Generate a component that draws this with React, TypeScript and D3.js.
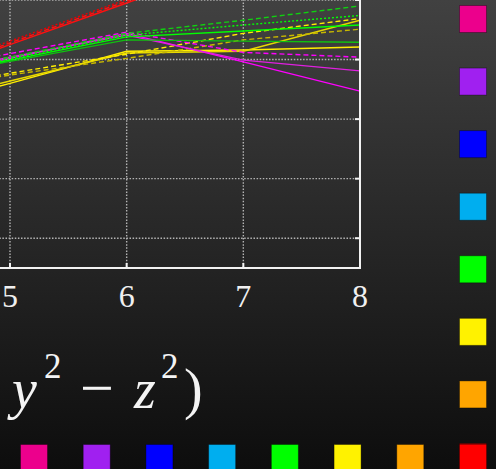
import React from "react";
import * as d3 from "d3";

// x values of every series (the left point sits outside the visible crop)
const xs = [4, 5, 6, 7, 8];
const xTicks = [5, 6, 7, 8];
const yTicks = [1, 2, 3, 4, 5];

const red1 = [3.57, 4.25, 4.95, 5.65, 6.35];
const red2 = [3.59, 4.28, 4.98, 5.68, 6.38];
const red3 = [3.62, 4.31, 5.01, 5.71, 6.41];

const mag1 = [3.62, 4.02, 4.44, 3.96, 3.47];
const mag2 = [3.66, 4.04, 4.41, 3.99, 3.81];
const mag3 = [3.72, 4.1, 4.46, 4.12, 4.04];

const green1 = [3.58, 3.97, 4.33, 4.31, 4.29];
const green2 = [3.62, 3.99, 4.38, 4.48, 4.58];
const green3 = [3.66, 4.04, 4.44, 4.66, 4.9];
const green4 = [3.63, 4.01, 4.41, 4.58, 4.74];

const yellow1 = [3.08, 3.6, 4.14, 4.16, 4.21];
const yellow2 = [3.14, 3.64, 4.11, 4.14, 4.66];
const yellow3 = [3.44, 3.74, 4.02, 4.33, 4.51];
const yellow4 = [3.43, 3.77, 4.09, 4.44, 4.69];

const series = [
  { values: red1, color: "#ff1010", dash: null },
  { values: red2, color: "#ff1010", dash: "5,3" },
  { values: red3, color: "#e80000", dash: "2,2" },
  { values: yellow1, color: "#ffee00", dash: null },
  { values: yellow2, color: "#e8d800", dash: null },
  { values: yellow3, color: "#c8b800", dash: "5,3" },
  { values: yellow4, color: "#ffee00", dash: "5,3" },
  { values: mag1, color: "#ff00ff", dash: null },
  { values: mag2, color: "#e020e0", dash: null },
  { values: mag3, color: "#ff00ff", dash: "5,3" },
  { values: green1, color: "#10c010", dash: null },
  { values: green2, color: "#00ff00", dash: null },
  { values: green3, color: "#10d010", dash: "5,3" },
  { values: green4, color: "#00ff00", dash: "2,2" },
];

const legendColors = [
  "#ec008c",
  "#a020f0",
  "#0000ff",
  "#00aeef",
  "#00ff00",
  "#fff200",
  "#ffa500",
  "#ff0000",
];

const W = 496;
const H = 469;
const serif = "Liberation Serif, DejaVu Serif, serif";

export default function App() {
  const x = d3.scaleLinear().domain([5, 8]).range([10, 360]);
  const y = d3.scaleLinear().domain([0.5, 5]).range([268, 0]);
  const line = d3
    .line<number>()
    .x((_, i) => x(xs[i]))
    .y((d) => y(d));

  const legendY = d3.scaleLinear().domain([0, 7]).range([5, 443]);
  const legendX = d3.scaleLinear().domain([0, 7]).range([20, 459]);
  const sq = 27;

  return (
    <div style={{ position: "fixed", left: 0, top: 0 }}>
      <svg width={W} height={H} style={{ display: "block" }}>
        <defs>
          <linearGradient id="bg" x1="0" y1="0" x2="0" y2="1">
            <stop offset="0%" stopColor="#414141" />
            <stop offset="100%" stopColor="#0d0d0d" />
          </linearGradient>
          <clipPath id="plot">
            <rect x={-100} y={-100} width={460} height={368} />
          </clipPath>
        </defs>
        <rect width={W} height={H} fill="url(#bg)" />

        {/* grid */}
        <g stroke="#b4b4b4" strokeWidth={1.4} strokeDasharray="1.5,1.6">
          {xTicks.slice(0, -1).map((t) => (
            <line key={"gx" + t} x1={x(t)} x2={x(t)} y1={-10} y2={268} />
          ))}
          {yTicks.map((t) => (
            <line key={"gy" + t} x1={-10} x2={360} y1={y(t)} y2={y(t)} />
          ))}
        </g>

        {/* series */}
        <g clipPath="url(#plot)" fill="none" strokeWidth={1.4}>
          {series.map((s, i) => (
            <path
              key={i}
              d={line(s.values) || ""}
              stroke={s.color}
              strokeDasharray={s.dash || undefined}
            />
          ))}
        </g>

        {/* frame and ticks */}
        <g stroke="#f2f2f2" strokeWidth={2}>
          <line x1={-10} x2={361} y1={268} y2={268} />
          <line x1={360} x2={360} y1={-10} y2={269} />
          {xTicks.slice(0, -1).map((t) => (
            <line key={"tx" + t} x1={x(t)} x2={x(t)} y1={268} y2={263} />
          ))}
          {yTicks.map((t) => (
            <line key={"ty" + t} x1={360} x2={355} y1={y(t)} y2={y(t)} />
          ))}
        </g>

        {/* tick labels */}
        <g fill="#f0f0f0" fontFamily={serif} fontSize={32} textAnchor="middle">
          {xTicks.map((t) => (
            <text key={"lx" + t} x={x(t)} y={307}>
              {t}
            </text>
          ))}
        </g>

        {/* axis label (partially visible) */}
        <text fill="#f4f4f4" fontFamily={serif} fontSize={56} y={408}>
          <tspan x={12} fontStyle="italic">
            y
          </tspan>
          <tspan x={44} y={378} fontSize={35}>
            2
          </tspan>
          <tspan x={80} y={408} fontSize={60}>
            −
          </tspan>
          <tspan x={134} y={408} fontStyle="italic">
            z
          </tspan>
          <tspan x={161} y={378} fontSize={35}>
            2
          </tspan>
          <tspan x={184} y={408}>
            )
          </tspan>
        </text>

        {/* legend squares */}
        <g stroke="rgba(0,0,0,0.35)" strokeWidth={1}>
          {legendColors.map((c, i) => (
            <rect
              key={"lr" + i}
              x={459.5}
              y={legendY(i) + 0.5}
              width={sq}
              height={sq}
              fill={c}
            />
          ))}
          {legendColors.map((c, i) => (
            <rect
              key={"lb" + i}
              x={legendX(i) + 0.5}
              y={444.5}
              width={sq}
              height={sq}
              fill={c}
            />
          ))}
        </g>
      </svg>
    </div>
  );
}
